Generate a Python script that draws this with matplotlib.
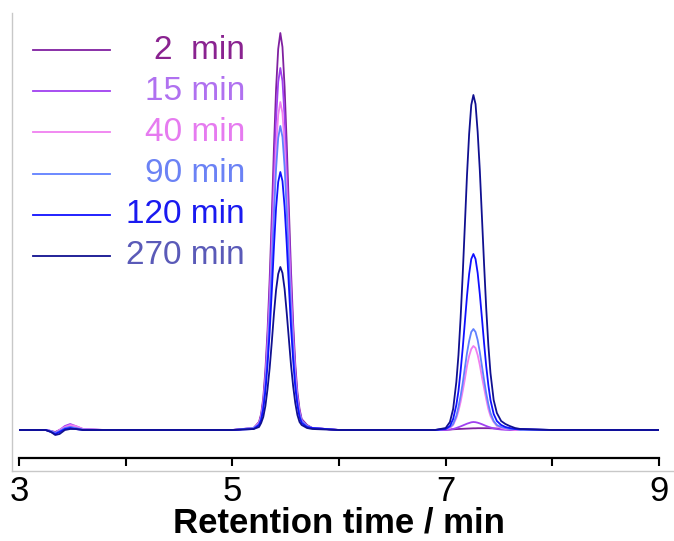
import matplotlib
matplotlib.use("Agg")
import matplotlib.pyplot as plt
from matplotlib.lines import Line2D
import numpy as np

plt.rcParams['font.family'] = ['Liberation Sans', 'DejaVu Sans']

# retention time grid (min), denser around the peaks
t = [3.0, 3.25, 3.3, 3.34, 3.38, 3.43, 3.48, 3.53, 3.6, 3.8,
     5.0, 5.2, 5.25, 5.27, 5.29, 5.31, 5.33, 5.35, 5.37, 5.39, 5.41, 5.43, 5.45,
     5.47, 5.49, 5.51, 5.53, 5.55, 5.57, 5.59, 5.61, 5.63, 5.65, 5.7, 5.75,
     6.0, 6.9,
     7.0, 7.04, 7.07, 7.1, 7.12, 7.14, 7.16, 7.18, 7.2, 7.22, 7.24, 7.26,
     7.28, 7.30, 7.32, 7.34, 7.36, 7.38, 7.40, 7.42, 7.45, 7.48, 7.52, 7.56, 7.6, 7.65, 7.7,
     8.0, 9.0]

# detector signal (a.u.)
sig_2 = [0, 0, -1, -2, 0, 2, 3, 2, 0.5, 0,
         0, 2, 8, 16, 32, 60, 99, 151, 214, 282, 341, 381, 397,
         383, 343, 286, 222, 159, 107, 66, 38, 21, 11, 5, 2,
         0, 0,
         0.3, 0.5, 0.7, 0.9, 1, 1.1, 1.2, 1.3, 1.4, 1.5, 1.6, 1.7,
         1.7, 1.8, 1.8, 1.8, 1.8, 1.8, 1.8, 1.7, 1.6, 1.5, 1.3, 1.1, 0.9, 0.7, 0.5,
         0, 0]
sig_15 = [0, 0, -1, -3, 0, 4, 6, 4, 1, 0,
          0, 2, 7, 14, 29, 54, 91, 138, 195, 257, 311, 348, 362,
          349, 313, 261, 203, 145, 98, 60, 34, 19, 10, 4, 2,
          0, 0,
          0, 0.5, 1, 2, 2.8, 3.6, 4.5, 5.4, 6.3, 7, 7.7, 8,
          7.8, 7.3, 6.6, 5.8, 4.9, 4, 3.2, 2.5, 1.6, 1, 0.5, 0.2, 0, 0, 0,
          0, 0]
sig_40 = [0, 0, -1, -3, 0, 3, 5, 4, 1, 0,
          0, 2, 7, 13, 26, 49, 82, 125, 177, 233, 282, 315, 328,
          317, 284, 236, 184, 131, 89, 54, 31, 17, 9, 4, 2,
          0, 0,
          1, 2, 5, 12, 19, 28, 39, 51, 64, 74, 81, 84,
          82, 75, 65, 53, 42, 31, 21, 14, 8, 4, 2, 1, 1, 0, 0,
          0, 0]
sig_90 = [0, 0, -1, -3, -1, 2, 3, 2, 0.5, 0,
          0, 2, 6, 12, 24, 46, 76, 116, 164, 216, 261, 292, 304,
          293, 263, 219, 170, 122, 82, 50, 29, 16, 9, 4, 2,
          0, 0,
          1, 3, 6, 14, 23, 34, 47, 62, 77, 89, 98, 101,
          98, 90, 78, 64, 50, 37, 26, 17, 9, 5, 3, 2, 1, 1, 0,
          0, 0]
sig_120 = [0, 0, -2, -4, -2, 1, 2, 1, 0, 0,
           0, 1, 5, 10, 21, 39, 65, 98, 139, 183, 222, 248, 258,
           249, 223, 186, 144, 103, 70, 43, 25, 13, 7, 3, 2,
           0, 0,
           1, 4, 11, 25, 39, 59, 82, 108, 134, 156, 171, 176,
           171, 157, 136, 112, 87, 64, 45, 30, 16, 9, 5, 3, 2, 1, 1,
           0, 0]
sig_270 = [0, 0, -2, -5, -4, 0, 1, 1, 0, 0,
           0, 1, 3, 7, 13, 24, 41, 62, 88, 116, 140, 156, 163,
           157, 141, 117, 91, 65, 44, 27, 15, 8, 5, 2, 1,
           0, 0,
           2, 8, 21, 48, 75, 112, 156, 205, 255, 296, 325, 335,
           326, 298, 260, 213, 166, 122, 85, 57, 30, 17, 9, 6, 4, 2, 1,
           0, 0]

labels = ['2  min', '15 min', '40 min', '90 min', '120 min', '270 min']
series = [sig_2, sig_15, sig_40, sig_90, sig_120, sig_270]
line_colors = ['#8020a0', '#a040f0', '#f080f0', '#6080ff', '#1010ff', '#101090']
text_colors = ['#8a2390', '#b071f0', '#e67bf0', '#6b82f5', '#1a1af0', '#5a5ab8']

fig = plt.figure(figsize=(6.74, 5.41), dpi=100)
W, H = 674, 541
ax = fig.add_axes([19 / W, (H - 458) / H, 640 / W, 438 / H])

for y, c in zip(series, line_colors):
    ax.plot(t, y, color=c, lw=1.3)

ax.set_xlim(3, 9)
ax.set_ylim(-28, 410)
ax.set_yticks([])
for s in ['top', 'right', 'left']:
    ax.spines[s].set_visible(False)
ax.spines['bottom'].set_linewidth(1.6)
ax.set_xticks(np.arange(3, 10, 1))
ax.set_xticklabels(['3', '', '5', '', '7', '', '9'])
ax.tick_params(axis='x', direction='out', length=6, width=1.5, pad=6, labelsize=25)
ax.set_xlabel('Retention time / min', fontsize=25, fontweight='bold', labelpad=-1)

# light grey frame on the left and bottom
fig.add_artist(Line2D([12 / W, 12 / W], [1 - 13 / H, 1 - 471 / H], color='#c8c8c8', lw=1))
fig.add_artist(Line2D([12 / W, 1], [1 - 471 / H, 1 - 471 / H], color='#c8c8c8', lw=1))

# legend drawn by hand: coloured key line + right-aligned coloured text
for i, (lab, lc, tc) in enumerate(zip(labels, line_colors, text_colors)):
    yy = 1 - (50 + 41.2 * i) / H
    fig.add_artist(Line2D([33 / W, 110 / W], [yy, yy], color=lc, lw=1.3))
    fig.text(245 / W, yy, lab, color=tc, fontsize=24, ha='right', va='center')

fig.savefig('out.png', dpi=100)
